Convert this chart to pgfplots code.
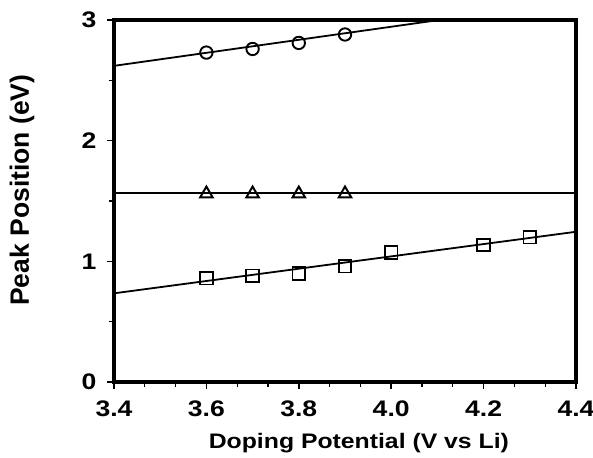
\documentclass[border=0pt]{standalone}
\usepackage{fontspec}
\setmainfont{Liberation Sans}[FakeStretch=1.18]
\newfontfamily\plainsans{Liberation Sans}
\usepackage{pgfplots}
\pgfplotsset{compat=1.18}
\begin{document}
\begin{tikzpicture}
\useasboundingbox (-114pt,-75pt) rectangle (479pt,382pt);
\begin{axis}[
  at={(0pt,0pt)}, anchor=south west,
  scale only axis,
  width=462pt, height=362pt,
  xmin=3.4, xmax=4.4, ymin=0, ymax=3,
  xtick={3.4,3.6,3.8,4.0,4.2,4.4},
  ytick={0,1,2,3},
  minor x tick num=2,
  minor y tick num=1,
  xtick pos=bottom, ytick pos=left,
  major tick length=7pt, minor tick length=5pt,
  every major tick/.style={line width=1.6pt, black},
  every minor tick/.style={line width=1.3pt, black},
  tick align=outside,
  minor tick style={/pgfplots/tick align=inside},
  axis line style={line width=3.6pt},
  /pgf/number format/assume math mode=true,
  xticklabel style={/pgf/number format/fixed, /pgf/number format/fixed zerofill, /pgf/number format/precision=1, yshift=-8pt},
  yticklabel style={/pgf/number format/fixed, /pgf/number format/precision=0, xshift=-7pt},
  tick label style={font=\fontsize{22.5}{24}\selectfont\bfseries},
  xlabel={Doping Potential (V vs Li)},
  ylabel={Peak Position (eV)},
  xlabel style={font=\fontsize{21}{24}\selectfont\bfseries, at={(axis description cs:0.53,0)}, anchor=base, yshift=-66pt},
  ylabel style={font=\plainsans\fontsize{26.5}{28}\selectfont\bfseries, at={([xshift=-92pt]axis description cs:0,0.53)}, anchor=center},
  clip=true,
]
% fitted lines
\addplot[black, line width=1.8pt] coordinates {(3.4,2.62) (4.4,3.16)};
\addplot[black, line width=1.8pt] coordinates {(3.4,1.563) (4.4,1.563)};
\addplot[black, line width=1.8pt] coordinates {(3.4,0.735) (4.4,1.245)};
% data
\addplot[only marks, mark=o, mark size=6.2pt, mark options={line width=1.9pt, fill=white}] coordinates {
(3.6,2.73) (3.7,2.76) (3.8,2.81) (3.9,2.88)};
\addplot[only marks, mark=triangle, mark size=7.2pt, mark options={line width=2pt, fill=white}] coordinates {
(3.6,1.56) (3.7,1.56) (3.8,1.56) (3.9,1.56)};
\addplot[only marks, mark=square, mark size=6.3pt, mark options={line width=1.9pt, fill=white}] coordinates {
(3.6,0.86) (3.7,0.88) (3.8,0.90) (3.9,0.96) (4.0,1.075) (4.2,1.135) (4.3,1.20)};
\end{axis}
\end{tikzpicture}
\end{document}
